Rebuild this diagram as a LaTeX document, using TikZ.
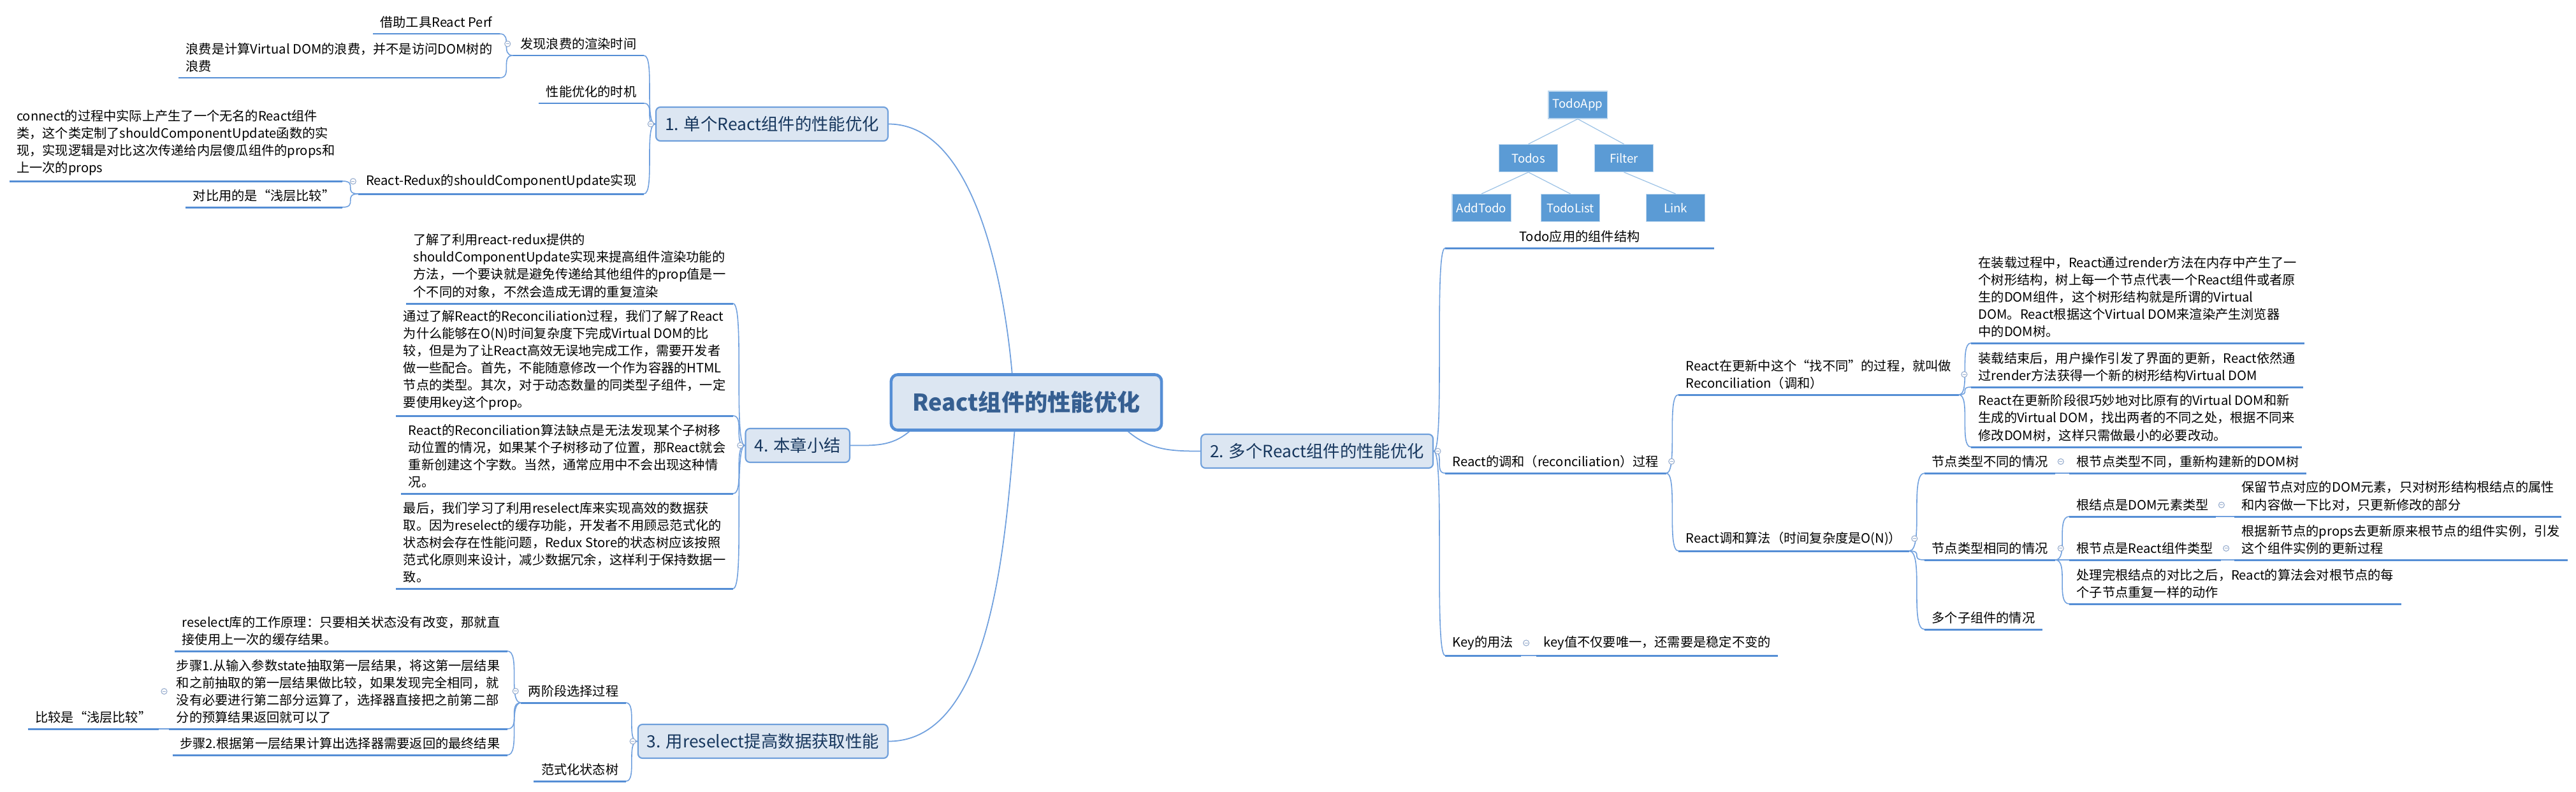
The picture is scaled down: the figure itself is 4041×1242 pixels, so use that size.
\documentclass[tikz,border=0pt]{standalone}
\usepackage{fontspec}
\setmainfont{Noto Sans CJK SC}
\usetikzlibrary{positioning}
\definecolor{subcolor}{RGB}{85,142,213}
\definecolor{concolor}{RGB}{112,160,222}
\definecolor{raizfill}{RGB}{220,230,242}
\definecolor{raiztexto}{RGB}{54,95,145}
\definecolor{ramatexto}{RGB}{23,55,94}
\definecolor{cajafill}{RGB}{91,155,213}
\definecolor{plegcolor}{RGB}{150,172,205}

\begin{document}
\begin{tikzpicture}[
    x=0.01cm, y=-0.01cm,
    font=\fontsize{5.75}{7.7}\selectfont,
    raiz/.style={
        draw=subcolor,
        line width=1.3pt,
        rounded corners=3pt,
        fill=raizfill,
        minimum width=4.24cm,
        minimum height=0.87cm,
        text=raiztexto,
        font=\fontsize{10.3}{12}\selectfont\bfseries
    },
    rama/.style={
        draw=subcolor!85,
        line width=0.6pt,
        rounded corners=2pt,
        fill=raizfill,
        minimum height=0.53cm,
        inner xsep=4pt,
        text=ramatexto,
        font=\fontsize{7.5}{9}\selectfont
    },
    hoja/.style={
        align=left,
        inner xsep=3.1pt,
        inner ysep=2.3pt,
        append after command={(\tikzlastnode.south west) edge[subrayado] (\tikzlastnode.south east)}
    },
    subrayado/.style={draw=subcolor, line width=0.85pt},
    conector/.style={
        draw=concolor,
        line width=0.45pt,
        to path={.. controls (\tikztostart -| \tikztotarget) and (\tikztotarget -| \tikztostart) .. (\tikztotarget)}
    },
    tronco/.style={draw=concolor, line width=0.5pt},
    plegar/.style={
        circle,
        draw=plegcolor,
        line width=0.3pt,
        fill=white,
        minimum size=0.09cm,
        inner sep=0pt,
        path picture={\draw[plegcolor, line width=0.3pt] (path picture bounding box.center) +(-0.7pt,0) -- +(0.7pt,0);}
    },
    caja/.style={
        fill=cajafill,
        draw=white!60!cajafill,
        line width=0.3pt,
        text=white,
        minimum width=0.92cm,
        minimum height=0.43cm,
        inner sep=0pt,
        font=\fontsize{5.3}{6}\selectfont
    },
    arbol/.style={draw=cajafill!60, line width=0.35pt}
]
    \path[use as bounding box, fill=white] (0,0) rectangle (4041,1242);

    \node[raiz] (raiz) at (1610,631) {React组件的性能优化};

    \node[rama, anchor=east] (rama1) at (1394,194.5) {1. 单个React组件的性能优化};
    \node[rama, anchor=west] (rama2) at (1883,707.5) {2. 多个React组件的性能优化};
    \node[rama, anchor=east] (rama3) at (1394,1162.5) {3. 用reselect提高数据获取性能};
    \node[rama, anchor=east] (rama4) at (1334,698.5) {4. 本章小结};

    \node[hoja, anchor=south east] (desperdicio) at (1010,87) {发现浪费的渲染时间};
    \node[hoja, anchor=south east] (momento) at (1010,162) {性能优化的时机};
    \node[hoja, anchor=south east] (redux) at (1010,304) {React-Redux的shouldComponentUpdate实现};
    \node[hoja, anchor=south east] (perf) at (784,53) {借助工具React Perf};
    \node[hoja, anchor=south east] (vdom) at (784,122)
        {浪费是计算Virtual DOM的浪费，并不是访问DOM树的\\浪费};
    \node[hoja, anchor=south east] (connect) at (537,284)
        {connect的过程中实际上产生了一个无名的React组件\\类，这个类定制了shouldComponentUpdate函数的实\\现，实现逻辑是对比这次传递给内层傻瓜组件的props和\\上一次的props};
    \node[hoja, anchor=south east] (somera) at (537,325) {对比用的是“浅层比较”};

    \node[hoja, anchor=south east] (resumen1) at (1150,476)
        {了解了利用react-redux提供的\\shouldComponentUpdate实现来提高组件渲染功能的\\方法，一个要诀就是避免传递给其他组件的prop值是一\\个不同的对象，不然会造成无谓的重复渲染};
    \node[hoja, anchor=south east] (resumen2) at (1150,652)
        {通过了解React的Reconciliation过程，我们了解了React\\为什么能够在O(N)时间复杂度下完成Virtual DOM的比\\较，但是为了让React高效无误地完成工作，需要开发者\\做一些配合。首先，不能随意修改一个作为容器的HTML\\节点的类型。其次，对于动态数量的同类型子组件，一定\\要使用key这个prop。};
    \node[hoja, anchor=south east] (resumen3) at (1150,774)
        {React的Reconciliation算法缺点是无法发现某个子树移\\动位置的情况，如果某个子树移动了位置，那React就会\\重新创建这个字数。当然，通常应用中不会出现这种情\\况。};
    \node[hoja, anchor=south east] (resumen4) at (1150,923)
        {最后，我们学习了利用reselect库来实现高效的数据获\\取。因为reselect的缓存功能，开发者不用顾忌范式化的\\状态树会存在性能问题，Redux Store的状态树应该按照\\范式化原则来设计，减少数据冗余，这样利于保持数据一\\致。};

    \node[hoja, anchor=south east] (dosfases) at (982,1102) {两阶段选择过程};
    \node[hoja, anchor=south east] (normal) at (982,1225) {范式化状态树};
    \node[hoja, anchor=south east] (principio) at (796,1021)
        {reselect库的工作原理：只要相关状态没有改变，那就直\\接使用上一次的缓存结果。};
    \node[hoja, anchor=south east] (paso1) at (796,1143)
        {步骤1.从输入参数state抽取第一层结果，将这第一层结果\\和之前抽取的第一层结果做比较，如果发现完全相同，就\\没有必要进行第二部分运算了，选择器直接把之前第二部\\分的预算结果返回就可以了};
    \node[hoja, anchor=south east] (paso2) at (796,1184) {步骤2.根据第一层结果计算出选择器需要返回的最终结果};
    \node[hoja, anchor=south east] (comparar) at (249,1143) {比较是“浅层比较”};

    \node[caja] (todoapp) at (2475,164.5) {TodoApp};
    \node[caja] (todos) at (2397.5,248) {Todos};
    \node[caja] (filtro) at (2547.5,248) {Filter};
    \node[caja] (addtodo) at (2324,326) {AddTodo};
    \node[caja] (todolist) at (2463.5,326) {TodoList};
    \node[caja] (link) at (2628.5,326) {Link};
    \draw[arbol] (todoapp.south) -- (todos.north);
    \draw[arbol] (todoapp.south) -- (filtro.north);
    \draw[arbol] (todos.south) -- (addtodo.north);
    \draw[arbol] (todos.south) -- (todolist.north);
    \draw[arbol] (filtro.south) -- (link.north);

    \node[hoja, anchor=south west, minimum width=4.2cm] (estructura) at (2267,389) {Todo应用的组件结构};
    \node[hoja, anchor=south west] (reconc) at (2267,742) {React的调和（reconciliation）过程};
    \node[hoja, anchor=south west] (llave) at (2267,1028) {Key的用法};
    \node[hoja, anchor=south west] (estable) at (2410,1028) {key值不仅要唯一，还需要是稳定不变的};
    \node[hoja, anchor=south west] (diferencia) at (2633,619)
        {React在更新中这个“找不同”的过程，就叫做\\Reconciliation（调和）};
    \node[hoja, anchor=south west] (algoritmo) at (2633,864) {React调和算法（时间复杂度是O(N)）};
    \node[hoja, anchor=south west] (carga) at (3092,538)
        {在装载过程中，React通过render方法在内存中产生了一\\个树形结构，树上每一个节点代表一个React组件或者原\\生的DOM组件，这个树形结构就是所谓的Virtual\\DOM。React根据这个Virtual DOM来渲染产生浏览器\\中的DOM树。};
    \node[hoja, anchor=south west] (actualiza) at (3092,607)
        {装载结束后，用户操作引发了界面的更新，React依然通\\过render方法获得一个新的树形结构Virtual DOM};
    \node[hoja, anchor=south west] (compara) at (3092,701)
        {React在更新阶段很巧妙地对比原有的Virtual DOM和新\\生成的Virtual DOM，找出两者的不同之处，根据不同来\\修改DOM树，这样只需做最小的必要改动。};
    \node[hoja, anchor=south west] (tipodist) at (3019,742) {节点类型不同的情况};
    \node[hoja, anchor=south west] (tipoigual) at (3019,878) {节点类型相同的情况};
    \node[hoja, anchor=south west] (hijos) at (3019,987) {多个子组件的情况};
    \node[hoja, anchor=south west] (reconstruir) at (3246,742) {根节点类型不同，重新构建新的DOM树};
    \node[hoja, anchor=south west] (raizdom) at (3246,810) {根结点是DOM元素类型};
    \node[hoja, anchor=south west] (raizreact) at (3246,878) {根节点是React组件类型};
    \node[hoja, anchor=south west] (recursivo) at (3246,947)
        {处理完根结点的对比之后，React的算法会对根节点的每\\个子节点重复一样的动作};
    \node[hoja, anchor=south west] (conservar) at (3505,810)
        {保留节点对应的DOM元素，只对树形结构根结点的属性\\和内容做一下比对，只更新修改的部分};
    \node[hoja, anchor=south west] (props) at (3505,878)
        {根据新节点的props去更新原来根节点的组件实例，引发\\这个组件实例的更新过程};

    \draw[tronco] (raiz.116) to[out=95, in=0, looseness=0.8] (rama1.east);
    \draw[tronco] (raiz.-112) to[out=-95, in=0, looseness=0.8] (rama3.east);
    \draw[tronco] (raiz.194) to[out=220, in=0] (rama4.east);
    \draw[tronco] (raiz.-16) to[out=-40, in=180] (rama2.west);

    \draw[conector] (rama1.west) to (desperdicio.south east);
    \draw[conector] (rama1.west) to (momento.south east);
    \draw[conector] (rama1.west) to (redux.south east);
    \draw[conector] (desperdicio.south west) to (perf.south east);
    \draw[conector] (desperdicio.south west) to (vdom.south east);
    \draw[conector] (redux.south west) to (connect.south east);
    \draw[conector] (redux.south west) to (somera.south east);

    \draw[conector] (rama4.west) to (resumen1.south east);
    \draw[conector] (rama4.west) to (resumen2.south east);
    \draw[conector] (rama4.west) to (resumen3.south east);
    \draw[conector] (rama4.west) to (resumen4.south east);

    \draw[conector] (rama3.west) to (dosfases.south east);
    \draw[conector] (rama3.west) to (normal.south east);
    \draw[conector] (dosfases.south west) to (principio.south east);
    \draw[conector] (dosfases.south west) to (paso1.south east);
    \draw[conector] (dosfases.south west) to (paso2.south east);
    \draw[conector] (paso1.south west) to (comparar.south east);

    \draw[conector] (rama2.east) to (estructura.south west);
    \draw[conector] (rama2.east) to (reconc.south west);
    \draw[conector] (rama2.east) to (llave.south west);
    \draw[conector] (llave.south east) to (estable.south west);
    \draw[conector] (reconc.south east) to (diferencia.south west);
    \draw[conector] (reconc.south east) to (algoritmo.south west);
    \draw[conector] (diferencia.south east) to (carga.south west);
    \draw[conector] (diferencia.south east) to (actualiza.south west);
    \draw[conector] (diferencia.south east) to (compara.south west);
    \draw[conector] (algoritmo.south east) to (tipodist.south west);
    \draw[conector] (algoritmo.south east) to (tipoigual.south west);
    \draw[conector] (algoritmo.south east) to (hijos.south west);
    \draw[conector] (tipodist.south east) to (reconstruir.south west);
    \draw[conector] (tipoigual.south east) to (raizdom.south west);
    \draw[conector] (tipoigual.south east) to (raizreact.south west);
    \draw[conector] (tipoigual.south east) to (recursivo.south west);
    \draw[conector] (raizdom.south east) to (conservar.south west);
    \draw[conector] (raizreact.south east) to (props.south west);

    \node[plegar, left=0.6pt of rama1.west] (pleg1) {};
    \node[plegar, left=1pt of desperdicio.west] (pleg11) {};
    \node[plegar, left=1pt of redux.west] (pleg13) {};
    \node[plegar, left=0.6pt of rama4.west] (pleg4) {};
    \node[plegar, left=0.6pt of rama3.west] (pleg3) {};
    \node[plegar, left=1pt of dosfases.west] (pleg31) {};
    \node[plegar, left=0.8pt of paso1.west] (pleg312) {};
    \node[plegar, right=0.4pt of rama2.east] (pleg2) {};
    \node[plegar, right=1pt of reconc.east] (pleg22) {};
    \node[plegar, right=1pt of llave.east] (pleg23) {};
    \node[plegar, right=1pt of diferencia.east] (pleg221) {};
    \node[plegar, right=1pt of algoritmo.east] (pleg222) {};
    \node[plegar, right=1pt of tipodist.east] (pleg2221) {};
    \node[plegar, right=1pt of tipoigual.east] (pleg2222) {};
    \node[plegar, right=1pt of raizdom.east] (pleg22221) {};
    \node[plegar, right=1pt of raizreact.east] (pleg22222) {};
\end{tikzpicture}
\end{document}
